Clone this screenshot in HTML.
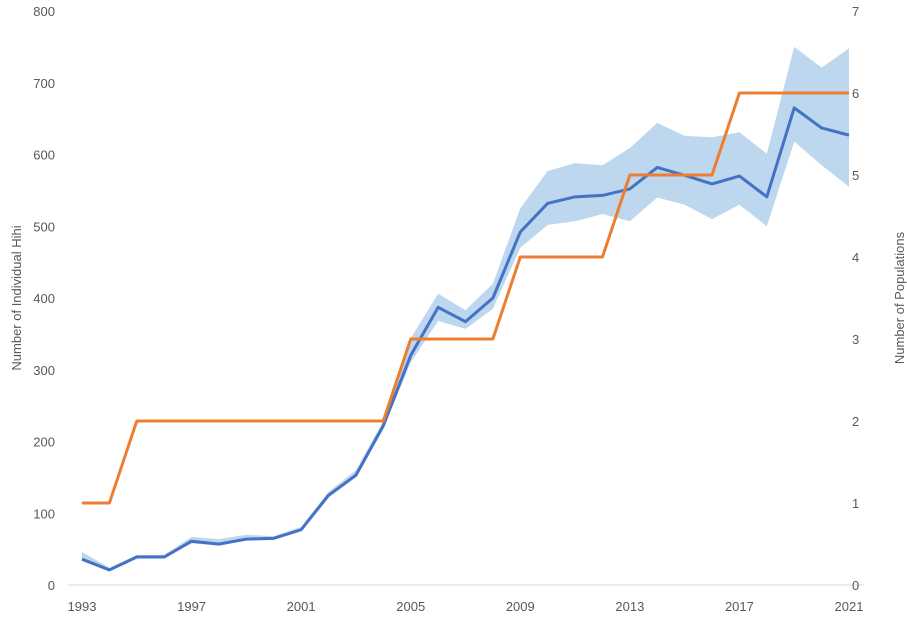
<!DOCTYPE html>
<html><head><meta charset="utf-8"><style>
body{margin:0;background:#fff;font-family:"Liberation Sans",sans-serif}
svg text{font-family:"Liberation Sans",sans-serif;fill:#595959;font-size:13px}
</style></head><body>
<svg width="907" height="618">
<g id="g"></g>
</svg>
<script>
const years=[1993,1994,1995,1996,1997,1998,1999,2000,2001,2002,2003,2004,2005,2006,2007,2008,2009,2010,2011,2012,2013,2014,2015,2016,2017,2018,2019,2020,2021];
const hihi=[36,21,39,39,61,57,64,65,77,125,153,222,320,387,367,400,492,532,541,543,552,582,571,559,570,541,665,637,627];
const upper=[46,24,42,42,67,64,70,68,81,130,160,229,344,406,383,420,525,577,588,585,609,644,626,624,631,601,750,721,748];
const lower=[34,20,38,38,58,55,62,63,75,122,150,218,310,368,357,385,470,502,507,517,507,540,530,510,530,500,618,585,555];
const pops=[1,1,2,2,2,2,2,2,2,2,2,2,3,3,3,3,4,4,4,4,5,5,5,5,6,6,6,6,6];
const leftTicks=[0,100,200,300,400,500,600,700,800];
const rightTicks=[0,1,2,3,4,5,6,7];
const xTicks=[1993,1997,2001,2005,2009,2013,2017,2021];
const NS="http://www.w3.org/2000/svg",g=document.getElementById('g');
const x=v=>82+(v-1993)*(849-82)/28, yl=v=>585-v*574/800, yr=v=>585-v*574/7;
function el(t,a){const e=document.createElementNS(NS,t);for(const k in a)e.setAttribute(k,a[k]);g.appendChild(e);return e;}
let e=el('line',{x1:68,x2:864,y1:585,y2:585,stroke:'#d9d9d9'});


let d=years.map((v,i)=>(i?'L':'M')+x(v)+','+yl(upper[i])).join('')+years.slice().reverse().map((v,j)=>{const i=years.length-1-j;return 'L'+x(v)+','+yl(lower[i]);}).join('')+'Z';
e=el('path',{d:d,fill:'#bdd7ee'});


e=el('polyline',{points:years.map((v,i)=>x(v)+','+yl(hihi[i])).join(' '),fill:'none',stroke:'#4472c4','stroke-width':3,'stroke-linejoin':'round'});


e=el('polyline',{points:years.map((v,i)=>x(v)+','+yr(pops[i])).join(' '),fill:'none',stroke:'#ed7d31','stroke-width':3,'stroke-linejoin':'round'});


leftTicks.forEach(v=>{const t=el('text',{x:55,y:yl(v)+5,'text-anchor':'end'});t.textContent=v;

});
rightTicks.forEach(v=>{const t=el('text',{x:852,y:yr(v)+5});t.textContent=v;

});
xTicks.forEach(v=>{const t=el('text',{x:x(v),y:611,'text-anchor':'middle'});t.textContent=v;

});
let t=el('text',{transform:'translate(21,298) rotate(-90)','text-anchor':'middle','font-size':12});t.textContent='Number of Individual Hihi';


t=el('text',{transform:'translate(904,298) rotate(-90)','text-anchor':'middle','font-size':12});t.textContent='Number of Populations';


</script>
</body></html>
